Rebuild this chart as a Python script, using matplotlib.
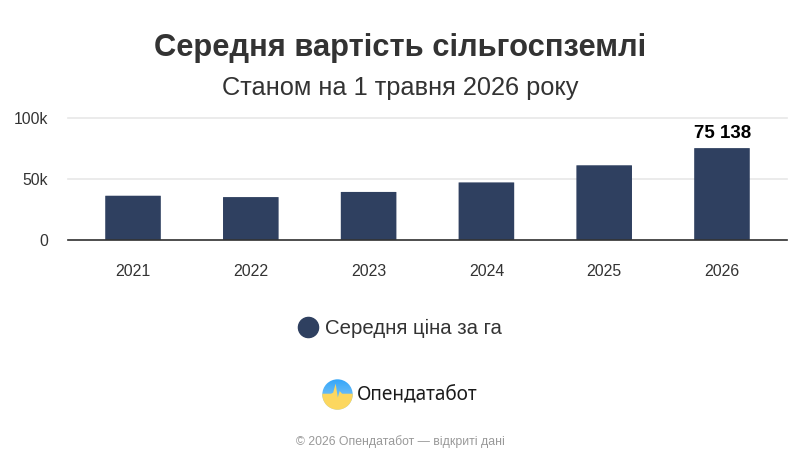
import numpy as np
import matplotlib
matplotlib.use('Agg')
import matplotlib.pyplot as plt
from matplotlib.lines import Line2D
from matplotlib.patches import Circle, FancyBboxPatch

years = ['2021', '2022', '2023', '2024', '2025', '2026']
prices = [36200, 35100, 39300, 47100, 61100, 75138]
y_ticks = [0, 50000, 100000]
y_labels = ['0', '50k', '100k']
last_label = '75 138'
series_name = 'Середня ціна за га'

W, H = 800, 466
plt.rcParams['font.family'] = ['Liberation Sans', 'DejaVu Sans']

fig = plt.figure(figsize=(W / 100, H / 100), dpi=100, facecolor='white')

# plot area in pixels: x 68-787, y 117.7-240
ax = fig.add_axes([68 / W, 1 - 240 / H, 719 / W, 122.3 / H])
x = np.arange(len(years))
for xi, val in zip(x, prices):
    # bars with slightly rounded top corners
    ax.add_patch(FancyBboxPatch((xi - 0.236, 0), 0.472, val, boxstyle='round,pad=0,rounding_size=0.012',
                                mutation_aspect=8000, fc='#2f4060', ec='none', zorder=3, clip_on=False))
ax.set_xlim(-0.552, 5.552)
ax.set_ylim(0, 100000)
ax.set_xticks(x, years)
ax.set_yticks(y_ticks, y_labels)
ax.tick_params(axis='x', length=0, pad=17.5, labelsize=11.4, labelcolor='#333333')
ax.tick_params(axis='y', length=0, pad=14.5, labelsize=11.3, labelcolor='#333333')
ax.grid(axis='y', color='#e8e8e8', lw=1.2, zorder=0, clip_on=False)
ax.set_axisbelow(True)
for s in ['top', 'right', 'left']:
    ax.spines[s].set_visible(False)
ax.spines['bottom'].set_color('#333333')
ax.spines['bottom'].set_linewidth(1.2)
ax.spines['bottom'].set_zorder(4)

ax.annotate(last_label, (x[-1], prices[-1]), xytext=(0.7, 4.5), textcoords='offset points',
            ha='center', va='bottom', fontsize=13.5, fontweight='bold', color='black')

fig.text(400.5 / W, 1 - 48.5 / H, 'Середня вартість сільгоспземлі', ha='center', va='center',
         fontsize=22.2, fontweight='bold', color='#333333')
fig.text(400 / W, 1 - 87.5 / H, 'Станом на 1 травня 2026 року', ha='center', va='center',
         fontsize=18.3, color='#333333')

handle = Line2D([], [], marker='o', ls='none', ms=14.5, color='#2f4060')
fig.legend([handle], [series_name], loc='center', bbox_to_anchor=(395 / W, 1 - 328.5 / H), frameon=False,
           fontsize=14.7, labelcolor='#333333', handletextpad=-0.15, borderpad=0)

# logo
logo = fig.add_axes([322 / W, 1 - 410 / H, 31 / W, 31 / H])
grad = np.linspace(0, 1, 64)[:, None]
c_top = np.array([0.20, 0.65, 0.98])
c_bot = np.array([0.62, 0.82, 0.95])
rgb = c_top + (c_bot - c_top) * grad[..., None]
im = logo.imshow(rgb, extent=[-1, 1, -1, 1], aspect='auto', origin='upper')
im.set_clip_path(Circle((0, 0), 0.98, transform=logo.transData))
# yellow lower part with a pulse spike
wave_x = [-1, -0.42, -0.28, -0.12, 0.02, 0.14, 0.3, 1, 1, -1]
wave_y = [0.05, 0.05, 0.12, 0.7, -0.2, 0.22, 0.05, 0.05, -1, -1]
yellow = logo.fill(wave_x, wave_y, color='#fcd75f', lw=0)[0]
yellow.set_clip_path(Circle((0, 0), 0.98, transform=logo.transData))
logo.set_xlim(-1, 1)
logo.set_ylim(-1, 1)
logo.axis('off')

fig.text(357 / W, 1 - 395 / H, 'Опендатабот', ha='left', va='center', fontsize=13.7,
         fontweight='bold', family=['Noto Sans', 'DejaVu Sans'], color='#1a1a1a')
fig.text(400 / W, 1 - 442 / H, '© 2026 Опендатабот — відкриті дані', ha='center', va='center',
         fontsize=8.8, color='#999999')

fig.savefig('out.png', dpi=100)
